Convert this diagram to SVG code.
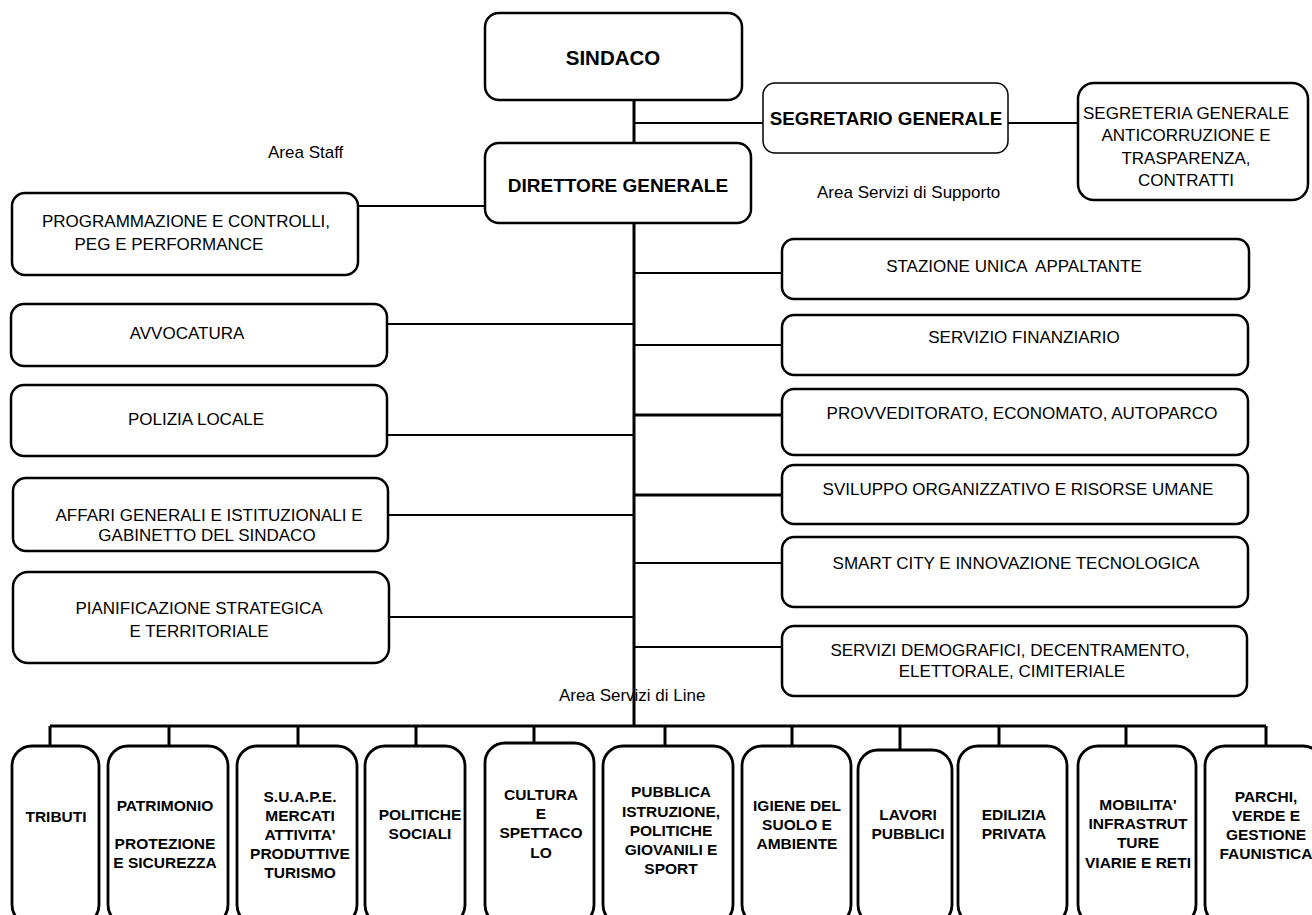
<svg xmlns="http://www.w3.org/2000/svg" width="1312" height="915" viewBox="0 0 1312 915">
<style>
.bg{fill:#fff}
.box{fill:#fff;stroke:#000;stroke-width:2.5}
.thin{fill:#fff;stroke:#000;stroke-width:1.5}
.col{fill:#fff;stroke:#000;stroke-width:2.8}
.ln{stroke:#000;stroke-width:2;fill:none}
.thk{stroke:#000;stroke-width:3;fill:none}
text{font-family:"Liberation Sans",Arial,sans-serif;fill:#000}
.t{font-size:17px;text-anchor:middle}
.tb{font-size:15.5px;font-weight:bold;text-anchor:middle}
.lbl{font-size:17px}
</style>
<rect class="bg" x="0" y="0" width="1312" height="915"/>
<g id="connectors">
<line class="thk" x1="634" y1="100" x2="634" y2="143"/>
<line class="thk" x1="634" y1="223" x2="634" y2="727"/>
<line class="ln" x1="634" y1="123" x2="763" y2="123"/>
<line class="ln" x1="1008" y1="123" x2="1078" y2="123"/>
<line class="ln" x1="358" y1="206" x2="485" y2="206"/>
<line class="ln" x1="387" y1="324" x2="634" y2="324"/>
<line class="ln" x1="387" y1="435" x2="634" y2="435"/>
<line class="ln" x1="388" y1="515" x2="634" y2="515"/>
<line class="ln" x1="389" y1="617" x2="634" y2="617"/>
<line class="ln" x1="634" y1="273" x2="782" y2="273"/>
<line class="ln" x1="634" y1="345" x2="782" y2="345"/>
<line class="thk" x1="634" y1="415" x2="782" y2="415"/>
<line class="thk" x1="634" y1="495" x2="782" y2="495"/>
<line class="ln" x1="634" y1="563" x2="782" y2="563"/>
<line class="ln" x1="634" y1="647" x2="782" y2="647"/>
<line class="thk" x1="50" y1="726" x2="1266" y2="726"/>
<line class="thk" x1="50" y1="726" x2="50" y2="746"/>
<line class="thk" x1="169" y1="726" x2="169" y2="746"/>
<line class="thk" x1="298" y1="726" x2="298" y2="746"/>
<line class="thk" x1="416" y1="726" x2="416" y2="746"/>
<line class="thk" x1="534" y1="726" x2="534" y2="743"/>
<line class="thk" x1="665" y1="726" x2="665" y2="746"/>
<line class="thk" x1="792" y1="726" x2="792" y2="746"/>
<line class="thk" x1="900" y1="726" x2="900" y2="750"/>
<line class="thk" x1="999" y1="726" x2="999" y2="746"/>
<line class="thk" x1="1126" y1="726" x2="1126" y2="746"/>
<line class="thk" x1="1266" y1="726" x2="1266" y2="746"/>
</g>
<g id="sindaco"><rect class="box" x="485" y="13" width="257" height="87" rx="14"/><text x="613" y="65" style="font-size:20.5px;font-weight:bold;text-anchor:middle">SINDACO</text></g>
<g id="direttore"><rect class="box" x="485" y="143" width="266" height="80" rx="14"/><text x="618" y="192" style="font-size:19px;font-weight:bold;text-anchor:middle">DIRETTORE GENERALE</text></g>
<g id="segretario"><rect class="thin" x="763" y="83" width="245" height="70" rx="12"/><text x="886" y="125" style="font-size:18.8px;font-weight:bold;text-anchor:middle">SEGRETARIO GENERALE</text></g>
<g id="segreteria"><rect class="box" x="1078" y="83" width="230" height="117" rx="16"/><text class="t" x="1186" y="119">SEGRETERIA GENERALE</text><text class="t" x="1186" y="141">ANTICORRUZIONE E</text><text class="t" x="1186" y="164">TRASPARENZA,</text><text class="t" x="1186" y="186">CONTRATTI</text></g>
<g id="labels"><text class="lbl" x="268" y="158">Area Staff</text><text class="lbl" x="817" y="198">Area Servizi di Supporto</text><text class="lbl" x="559" y="701">Area Servizi di Line</text></g>
<g id="programmazione"><rect class="box" x="12" y="193" width="346" height="82" rx="13"/><text class="t" x="186" y="227">PROGRAMMAZIONE E CONTROLLI,</text><text class="t" x="169" y="250">PEG E PERFORMANCE</text></g>
<g id="avvocatura"><rect class="box" x="11" y="304" width="376" height="62" rx="13"/><text class="t" x="187" y="339">AVVOCATURA</text></g>
<g id="polizia"><rect class="box" x="11" y="385" width="376" height="71" rx="13"/><text class="t" x="196" y="425">POLIZIA LOCALE</text></g>
<g id="affari"><rect class="box" x="13" y="478" width="375" height="73" rx="13"/><text class="t" x="209" y="521">AFFARI GENERALI E ISTITUZIONALI E</text><text class="t" x="207" y="541">GABINETTO DEL SINDACO</text></g>
<g id="pianificazione"><rect class="box" x="13" y="572" width="376" height="91" rx="15"/><text class="t" x="199" y="614">PIANIFICAZIONE STRATEGICA</text><text class="t" x="199" y="637">E TERRITORIALE</text></g>
<g id="stazione"><rect class="box" x="782" y="239" width="467" height="60" rx="12"/><text class="t" x="1014" y="272" xml:space="preserve">STAZIONE UNICA  APPALTANTE</text></g>
<g id="finanziario"><rect class="box" x="782" y="315" width="466" height="60" rx="12"/><text class="t" x="1024" y="343">SERVIZIO FINANZIARIO</text></g>
<g id="provveditorato"><rect class="box" x="782" y="389" width="466" height="66" rx="12"/><text class="t" x="1022" y="419">PROVVEDITORATO, ECONOMATO, AUTOPARCO</text></g>
<g id="sviluppo"><rect class="box" x="782" y="465" width="466" height="59" rx="12"/><text class="t" x="1018" y="495">SVILUPPO ORGANIZZATIVO E RISORSE UMANE</text></g>
<g id="smartcity"><rect class="box" x="782" y="537" width="466" height="70" rx="12"/><text class="t" x="1016" y="569">SMART CITY E INNOVAZIONE TECNOLOGICA</text></g>
<g id="demografici"><rect class="box" x="782" y="626" width="465" height="70" rx="12"/><text class="t" x="1010" y="656">SERVIZI DEMOGRAFICI, DECENTRAMENTO,</text><text class="t" x="1012" y="677">ELETTORALE, CIMITERIALE</text></g>
<g id="tributi"><rect class="col" x="12" y="746" width="87" height="179" rx="20"/><text class="tb" x="56" y="822">TRIBUTI</text></g>
<g id="patrimonio"><rect class="col" x="108" y="746" width="120" height="179" rx="20"/><text class="tb" x="165" y="811">PATRIMONIO</text><text class="tb" x="165" y="849">PROTEZIONE</text><text class="tb" x="165" y="868">E SICUREZZA</text></g>
<g id="suape"><rect class="col" x="237" y="746" width="120" height="179" rx="20"/><text class="tb" x="300" y="802">S.U.A.P.E.</text><text class="tb" x="300" y="821">MERCATI</text><text class="tb" x="300" y="840">ATTIVITA'</text><text class="tb" x="300" y="859">PRODUTTIVE</text><text class="tb" x="300" y="878">TURISMO</text></g>
<g id="politiche"><rect class="col" x="365" y="746" width="100" height="179" rx="20"/><text class="tb" x="420" y="820">POLITICHE</text><text class="tb" x="420" y="839">SOCIALI</text></g>
<g id="cultura"><rect class="col" x="485" y="743" width="109" height="182" rx="20"/><text class="tb" x="541" y="800">CULTURA</text><text class="tb" x="541" y="819">E</text><text class="tb" x="541" y="838">SPETTACO</text><text class="tb" x="541" y="858">LO</text></g>
<g id="pubblica"><rect class="col" x="603" y="746" width="130" height="179" rx="20"/><text class="tb" x="671" y="797">PUBBLICA</text><text class="tb" x="671" y="817">ISTRUZIONE,</text><text class="tb" x="671" y="836">POLITICHE</text><text class="tb" x="671" y="855">GIOVANILI E</text><text class="tb" x="671" y="874">SPORT</text></g>
<g id="igiene"><rect class="col" x="742" y="746" width="109" height="179" rx="20"/><text class="tb" x="797" y="811">IGIENE DEL</text><text class="tb" x="797" y="830">SUOLO E</text><text class="tb" x="797" y="849">AMBIENTE</text></g>
<g id="lavori"><rect class="col" x="858" y="750" width="94" height="175" rx="20"/><text class="tb" x="908" y="820">LAVORI</text><text class="tb" x="908" y="839">PUBBLICI</text></g>
<g id="edilizia"><rect class="col" x="958" y="746" width="109" height="179" rx="20"/><text class="tb" x="1014" y="820">EDILIZIA</text><text class="tb" x="1014" y="839">PRIVATA</text></g>
<g id="mobilita"><rect class="col" x="1078" y="746" width="118" height="179" rx="20"/><text class="tb" x="1138" y="810">MOBILITA'</text><text class="tb" x="1138" y="829">INFRASTRUT</text><text class="tb" x="1138" y="848">TURE</text><text class="tb" x="1138" y="868">VIARIE E RETI</text></g>
<g id="parchi"><rect class="col" x="1205" y="746" width="118" height="179" rx="20"/><text class="tb" x="1266" y="802">PARCHI,</text><text class="tb" x="1266" y="821">VERDE E</text><text class="tb" x="1266" y="840">GESTIONE</text><text class="tb" x="1266" y="859">FAUNISTICA</text></g>
</svg>
